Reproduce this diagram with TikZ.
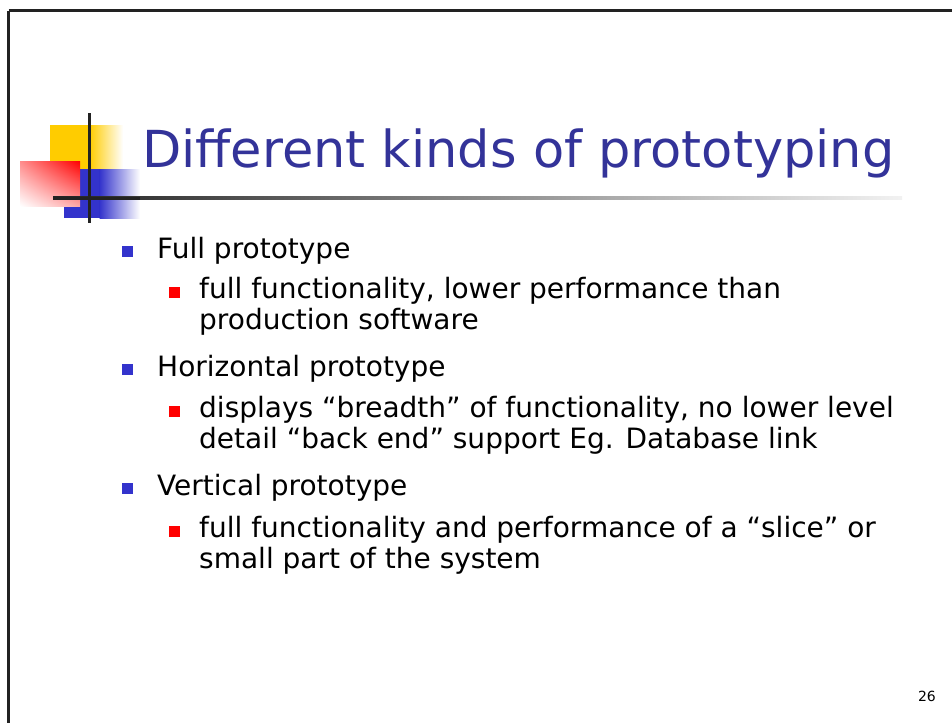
\documentclass[tikz,border=0pt]{standalone}
\usepackage{fontspec}
\setmainfont{DejaVu Sans}
\usetikzlibrary{positioning,shadings}
\definecolor{titleblue}{HTML}{333399}
\definecolor{logoyellow}{HTML}{FFCC00}
\definecolor{logoblue}{HTML}{3333CC}
\definecolor{logored}{HTML}{FF0000}
\definecolor{rulegray}{HTML}{222222}
\tikzset{
  mainitem/.style={anchor=base west, inner sep=0pt, font=\fontsize{28}{32}\selectfont},
  subitem/.style={anchor=base west, inner sep=0pt, font=\fontsize{28}{31}\selectfont},
  mainbullet/.style={fill=logoblue, draw=none, minimum size=11pt, inner sep=0pt, anchor=south west},
  subbullet/.style={fill=logored, draw=none, minimum size=11pt, inner sep=0pt, anchor=south west},
}
\begin{document}
\begin{tikzpicture}[x=1pt, y=-1pt]
\useasboundingbox (0,0) rectangle (952,723);
\fill[white] (0,0) rectangle (952,723);
% slide frame: top and left edges
\draw[line width=2.7pt, rulegray] (8.7,10.7) -- (952,10.7);
\draw[line width=2.7pt, rulegray] (8.7,10.7) -- (8.7,723);
% logo: yellow block fading to the right
\fill[logoyellow] (50,125) rectangle (90,169);
\shade[left color=logoyellow, right color=white] (89.5,125) rectangle (123,169);
% logo: blue block fading to the right
\fill[logoblue] (64,169) rectangle (100,218);
\shade[left color=logoblue, right color=white] (99.5,169) rectangle (140,218);
% logo: red block fading towards the lower left
\shade[upper right=logored, upper left=logored!45, lower right=logored!35, lower left=white]
  (20,161) rectangle (80,206);
% title rule with a gradient running to the right
\shade[left color=rulegray, right color=rulegray!6] (53,196.5) rectangle (902,199.5);
\fill[rulegray] (53,196.5) rectangle (140,199.5);
% logo cross bar
\fill[rulegray] (87.5,113) rectangle (90.5,223);
% title
\node[anchor=base west, inner sep=0pt, text=titleblue, font=\fontsize{51}{56}\selectfont] (title) at (142,167) {Different kinds of prototyping};
% first group
\node[mainbullet] (b1) at (122,257) {};
\node[mainitem] (t1) at (157,258) {Full prototype};
\node[subbullet] (s1b) at (169,298) {};
\node[subitem] (s1a) at (199,298) {full functionality, lower performance than};
\node[subitem] (s1c) at (199,329) {production software};
% second group
\node[mainbullet] (b2) at (122,375) {};
\node[mainitem] (t2) at (157,376) {Horizontal prototype};
\node[subbullet] (s2b) at (169,417) {};
\node[subitem] (s2a) at (199,417) {displays “breadth” of functionality, no lower level};
\node[subitem] (s2c) at (199,448) {detail “back end” support Eg. Database link};
% third group
\node[mainbullet] (b3) at (122,494) {};
\node[mainitem] (t3) at (157,495) {Vertical prototype};
\node[subbullet] (s3b) at (169,537) {};
\node[subitem] (s3a) at (199,537) {full functionality and performance of a “slice” or};
\node[subitem] (s3c) at (199,568) {small part of the system};
% page number
\node[anchor=base east, inner sep=0pt, font=\fontsize{14}{16}\selectfont] (pg) at (936,701) {26};
\end{tikzpicture}
\end{document}
